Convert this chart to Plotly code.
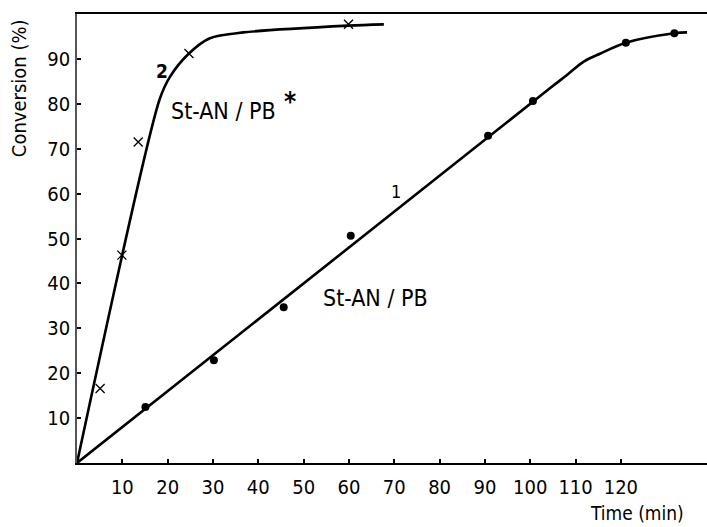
import plotly.graph_objects as go

# Curve 1: St-AN/PB (dots)
t1_pts = [15.1, 30.2, 45.6, 60.4, 90.7, 100.6, 121.1, 131.8]
c1_pts = [12.5, 22.9, 34.7, 50.6, 72.9, 80.6, 93.6, 95.7]
t1_line = [0, 104.4, 108.1, 111.8, 115.5, 121.1, 131.8, 134.6]
c1_line = [0, 83.5, 86.4, 89.4, 91.2, 93.6, 95.7, 95.9]

# Curve 2: St-AN/PB* (crosses)
t2_pts = [5.1, 9.9, 13.5, 24.7, 59.9]
c2_pts = [16.6, 46.3, 71.5, 91.2, 97.7]
t2_line = [0, 18.2, 20.5, 24.7, 29.3, 36.7, 59.9, 67.7]
c2_line = [0, 80.9, 86.0, 91.2, 94.6, 95.9, 97.4, 97.7]

x_ticks = [10, 20, 30, 40, 50, 60, 70, 80, 90, 100, 110, 120]
y_ticks = [10, 20, 30, 40, 50, 60, 70, 80, 90]

FONT = "DejaVu Sans Condensed, Liberation Sans Narrow, DejaVu Sans"

fig = go.Figure()
fig.add_trace(go.Scatter(x=t1_line, y=c1_line, mode="lines",
                         line=dict(color="black", width=2.6, shape="spline", smoothing=1.0),
                         hoverinfo="skip"))
fig.add_trace(go.Scatter(x=t2_line, y=c2_line, mode="lines",
                         line=dict(color="black", width=2.6, shape="spline", smoothing=0.8),
                         hoverinfo="skip"))
fig.add_trace(go.Scatter(x=t1_pts, y=c1_pts, mode="markers",
                         marker=dict(symbol="circle", size=8, color="black")))
fig.add_trace(go.Scatter(x=t2_pts, y=c2_pts, mode="markers",
                         marker=dict(symbol="x-thin", size=9, color="black",
                                     line=dict(color="black", width=1.3))))

annos = [
    dict(x=18.8, y=87.4, text="<b>2</b>", size=19),
    dict(x=32.4, y=78.4, text="St-AN / PB", size=23),
    dict(x=47.0, y=80.3, text="<b>*</b>", size=26),
    dict(x=70.3, y=60.5, text="1", size=18),
    dict(x=65.8, y=36.8, text="St-AN / PB", size=23),
]
for a in annos:
    fig.add_annotation(x=a["x"], y=a["y"], xref="x", yref="y", text=a["text"],
                       showarrow=False, xanchor="center", yanchor="middle",
                       font=dict(family=FONT, size=a["size"], color="black"))

fig.add_annotation(x=-0.092, y=0.835, xref="paper", yref="paper", text="Conversion (%)",
                   textangle=-90, showarrow=False, xanchor="center", yanchor="middle",
                   font=dict(family=FONT, size=20, color="black"))
fig.add_annotation(x=0.889, y=-0.111, xref="paper", yref="paper", text="Time (min)",
                   showarrow=False, xanchor="center", yanchor="middle",
                   font=dict(family=FONT, size=19, color="black"))

fig.update_layout(
    width=707, height=527,
    margin=dict(l=77, r=0, t=14, b=64),
    paper_bgcolor="white", plot_bgcolor="white",
    showlegend=False,
    font=dict(family=FONT, size=20, color="black"),
    xaxis=dict(range=[0, 139], tickvals=x_ticks, ticks="inside", ticklen=4, tickwidth=2,
               tickcolor="black", showline=True, linecolor="black", linewidth=1.5,
               mirror=True, showgrid=False, zeroline=False, ticklabelstandoff=5,
               tickfont=dict(size=20)),
    yaxis=dict(range=[0, 100], tickvals=y_ticks, ticks="inside", ticklen=4, tickwidth=2,
               tickcolor="black", showline=True, linecolor="#555555", linewidth=1.5,
               showgrid=False, zeroline=False, ticklabelstandoff=1,
               tickfont=dict(size=20)),
)

fig.write_html("out.html")
